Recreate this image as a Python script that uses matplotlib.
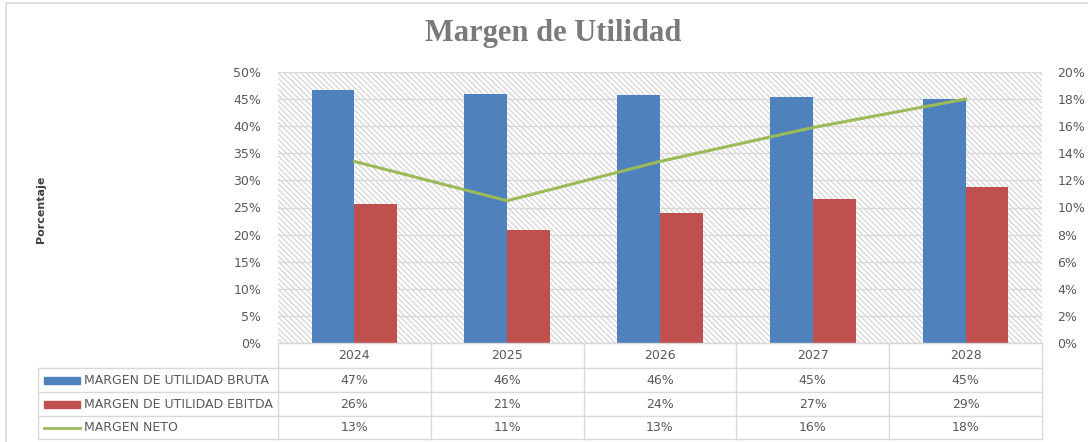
import matplotlib
matplotlib.use('Agg')
import matplotlib.pyplot as plt
from matplotlib.patches import Rectangle
from matplotlib.lines import Line2D
import matplotlib.transforms as mtransforms

# -------------------------------------------------------
# datos
# -------------------------------------------------------
anios = ['2024', '2025', '2026', '2027', '2028']
margen_bruta = [0.467, 0.459, 0.458, 0.454, 0.451]
margen_ebitda = [0.256, 0.209, 0.240, 0.265, 0.288]
margen_neto = [0.134, 0.105, 0.134, 0.159, 0.180]

etiq_bruta = ['47%', '46%', '46%', '45%', '45%']
etiq_ebitda = ['26%', '21%', '24%', '27%', '29%']
etiq_neto = ['13%', '11%', '13%', '16%', '18%']

nombres = ['MARGEN DE UTILIDAD BRUTA', 'MARGEN DE UTILIDAD EBITDA', 'MARGEN NETO']

AZUL = '#4f81bd'
ROJO = '#c0504d'
VERDE = '#9bbb59'
GRIS_TXT = '#595959'
GRIS_LIN = '#d9d9d9'

W, H = 1088, 442
fig = plt.figure(figsize=(W / 100, H / 100), dpi=100)

def fx(px):
    return px / W

def fy(py):
    return 1 - py / H

# borde del grafico (solo se ve arriba y a la izquierda)
fig.add_artist(Rectangle((fx(6), fy(460)), fx(1100), 457 / H,
                         transform=fig.transFigure, fill=False, edgecolor=GRIS_LIN, lw=1.2))

x0, x1, y0, y1 = 278, 1042, 72, 343
ax = fig.add_axes([fx(x0), fy(y1), fx(x1 - x0), (y1 - y0) / H])
ax.set_xlim(-0.5, 4.5)
ax.set_ylim(0, 0.5)

# fondo rayado
plt.rcParams['hatch.color'] = '#d0d0d0'
plt.rcParams['hatch.linewidth'] = 0.8
ax.add_patch(Rectangle((0, 0), 1, 1, transform=ax.transAxes, facecolor='white',
                       edgecolor='#d0d0d0', lw=0, hatch='\\\\\\\\\\\\', zorder=0))

xs = list(range(len(anios)))
ancho = 0.28
ax.bar([x - ancho / 2 for x in xs], margen_bruta, width=ancho, color=AZUL, zorder=3)
ax.bar([x + ancho / 2 for x in xs], margen_ebitda, width=ancho, color=ROJO, zorder=3)

ax.set_yticks([i * 0.05 for i in range(11)])
ax.set_yticklabels([f'{i * 5}%' for i in range(11)])
ax.yaxis.grid(True, color=GRIS_LIN, lw=1, zorder=1)
ax.set_axisbelow(True)
ax.set_xticks([])
for s in ax.spines.values():
    s.set_visible(False)
ax.tick_params(axis='y', length=0, labelsize=9, labelcolor=GRIS_TXT, pad=12)

ax2 = ax.twinx()
ax2.set_ylim(0, 0.2)
ax2.plot(xs, margen_neto, color=VERDE, lw=2.2, zorder=4)
ax2.set_yticks([i * 0.02 for i in range(11)])
ax2.set_yticklabels([f'{i * 2}%' for i in range(11)])
ax2.tick_params(axis='y', length=0, labelsize=9, labelcolor=GRIS_TXT, pad=11)
for s in ax2.spines.values():
    s.set_visible(False)
ax2.set_xlim(-0.5, 4.5)

# titulo y etiqueta de eje
fig.text(fx(553), fy(33), 'Margen de Utilidad', ha='center', va='center',
         fontsize=22, fontweight='bold', color='#7a7a7a', family='Liberation Serif')
fig.text(fx(41), fy(209), 'Porcentaje', ha='center', va='center', rotation=90,
         fontsize=8, fontweight='bold', color='#404040')

# -------------------------------------------------------
# tabla de datos
# -------------------------------------------------------
trans = mtransforms.blended_transform_factory(ax.transData, fig.transFigure)
filas_y = [343, 368, 392, 416, 439]
x_izq = -0.5 - (x0 - 38) / ((x1 - x0) / 5)

def hline(py, xa, xb):
    fig.add_artist(Line2D([xa, xb], [fy(py), fy(py)], transform=trans, color=GRIS_LIN, lw=1))

def vline(xd, pya, pyb):
    fig.add_artist(Line2D([xd, xd], [fy(pya), fy(pyb)], transform=trans, color=GRIS_LIN, lw=1))

hline(343, -0.5, 4.5)
for py in filas_y[1:]:
    hline(py, x_izq, 4.5)
for k in range(6):
    vline(-0.5 + k, 343, 439)
vline(x_izq, 368, 439)

centros = [(filas_y[i] + filas_y[i + 1]) / 2 for i in range(4)]
celdas = []
for x, a in zip(xs, anios):
    celdas.append(fig.text(x, fy(centros[0]), a, transform=trans))
for fila, etiquetas in zip(centros[1:], [etiq_bruta, etiq_ebitda, etiq_neto]):
    for x, e in zip(xs, etiquetas):
        celdas.append(fig.text(x, fy(fila), e, transform=trans))
for t in celdas:
    t.set_ha('center')
    t.set_va('center')
    t.set_fontsize(9)
    t.set_color(GRIS_TXT)

# leyenda dentro de la tabla
for fila, nombre, color in zip(centros[1:], nombres, [AZUL, ROJO, VERDE]):
    if color == VERDE:
        fig.add_artist(Line2D([fx(44), fx(80)], [fy(fila), fy(fila)],
                              transform=fig.transFigure, color=color, lw=2))
    else:
        fig.add_artist(Rectangle((fx(44), fy(fila + 3.5)), fx(36), 7 / H,
                                 transform=fig.transFigure, color=color))
    fig.text(fx(84), fy(fila), nombre, ha='left', va='center', fontsize=9, color=GRIS_TXT)

fig.savefig('out.png', dpi=100)
